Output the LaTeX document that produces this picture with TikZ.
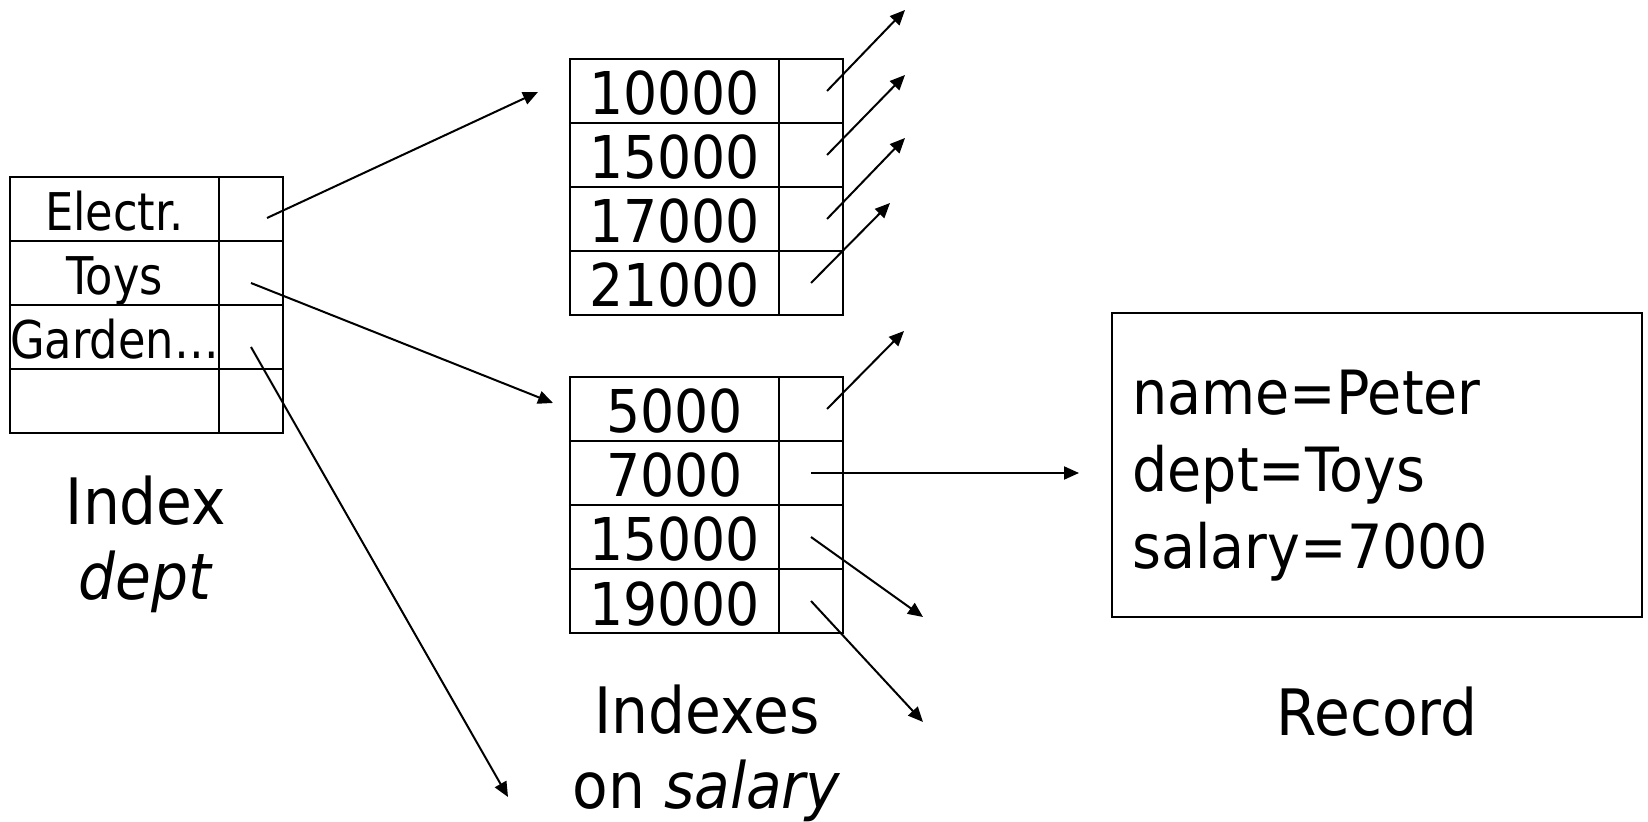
\documentclass[tikz,border=0pt]{standalone}
\usepackage{fontspec}
\setmainfont[FakeStretch=0.91]{DejaVu Sans}
\newfontfamily\deptfont[FakeStretch=0.86]{DejaVu Sans}
\usetikzlibrary{positioning,arrows.meta}

\begin{document}
\begin{tikzpicture}
  [x=0.5pt, y=-0.5pt,
    KeyCell/.style={rectangle, draw, line width=1pt, minimum width=104.5pt, minimum height=32pt, inner sep=0pt, outer sep=0pt, text depth=0pt},
    PtrCell/.style={rectangle, draw, line width=1pt, minimum width=32pt, minimum height=32pt, inner sep=0pt, outer sep=0pt},
    DeptKey/.style={KeyCell, text height=22pt, font=\deptfont\fontsize{26}{30}\selectfont},
    SalKey/.style={KeyCell, text height=24pt, font=\fontsize{29.5}{34}\selectfont},
    Caption/.style={align=center, inner sep=0pt, font=\fontsize{32}{37.5}\selectfont},
    RecBox/.style={rectangle, draw, line width=1pt, minimum width=265pt, minimum height=152pt},
    RecText/.style={align=left, inner sep=0pt, font=\fontsize{30.5}{38.5}\selectfont},
    Ptr/.style={-{Triangle[length=7.5pt, width=6.5pt]}, line width=1pt}]
    \useasboundingbox (0,0) rectangle (1648,822);

    \node[DeptKey] (e1) at (114.5,209) {Electr.};
    \node[PtrCell, right=0pt of e1] (e1p) {};
    \node[DeptKey, below=0pt of e1] (e2) {Toys};
    \node[PtrCell, right=0pt of e2] (e2p) {};
    \node[DeptKey, below=0pt of e2] (e3) {Garden…};
    \node[PtrCell, right=0pt of e3] (e3p) {};
    \node[DeptKey, below=0pt of e3] (e4) {};
    \node[PtrCell, right=0pt of e4] (e4p) {};
    \node[Caption, anchor=north] (deptcap) at (146,475) {Index\\\textit{dept}};

    \node[SalKey] (t1) at (674.5,91) {10000};
    \node[PtrCell, right=0pt of t1] (t1p) {};
    \node[SalKey, below=0pt of t1] (t2) {15000};
    \node[PtrCell, right=0pt of t2] (t2p) {};
    \node[SalKey, below=0pt of t2] (t3) {17000};
    \node[PtrCell, right=0pt of t3] (t3p) {};
    \node[SalKey, below=0pt of t3] (t4) {21000};
    \node[PtrCell, right=0pt of t4] (t4p) {};

    \node[SalKey] (b1) at (674.5,409) {5000};
    \node[PtrCell, right=0pt of b1] (b1p) {};
    \node[SalKey, below=0pt of b1] (b2) {7000};
    \node[PtrCell, right=0pt of b2] (b2p) {};
    \node[SalKey, below=0pt of b2] (b3) {15000};
    \node[PtrCell, right=0pt of b3] (b3p) {};
    \node[SalKey, below=0pt of b3] (b4) {19000};
    \node[PtrCell, right=0pt of b4] (b4p) {};
    \node[Caption, anchor=north] (salcap) at (707,684) {Indexes\\on \textit{salary}};

    \node[RecBox] (rec) at (1377,465) {};
    \node[RecText, anchor=north west] (rectext) at (1132,370) {name=Peter\\dept=Toys\\salary=7000};
    \node[Caption, anchor=base] (reccap) at (1377,735) {Record};

    \coordinate (e1end) at (538,92);
    \coordinate (e2end) at (553,403);
    \coordinate (e3end) at (508,797);
    \coordinate (t1end) at (905,10);
    \coordinate (t2end) at (905,75);
    \coordinate (t3end) at (905,138);
    \coordinate (t4end) at (890,203);
    \coordinate (b1end) at (904,331);
    \coordinate (b2end) at (1079,473);
    \coordinate (b3end) at (923,617);
    \coordinate (b4end) at (923,722);

    \draw[Ptr] ([xshift=8pt,yshift=-4.5pt]e1p.center) -- (e1end);
    \draw[Ptr] ([yshift=-5pt]e2p.center) -- (e2end);
    \draw[Ptr] ([yshift=-5pt]e3p.center) -- (e3end);
    \draw[Ptr] ([xshift=8pt]t1p.center) -- (t1end);
    \draw[Ptr] ([xshift=8pt]t2p.center) -- (t2end);
    \draw[Ptr] ([xshift=8pt]t3p.center) -- (t3end);
    \draw[Ptr] (t4p.center) -- (t4end);
    \draw[Ptr] ([xshift=8pt]b1p.center) -- (b1end);
    \draw[Ptr] (b2p.center) -- (b2end);
    \draw[Ptr] (b3p.center) -- (b3end);
    \draw[Ptr] (b4p.center) -- (b4end);
\end{tikzpicture}
\end{document}
